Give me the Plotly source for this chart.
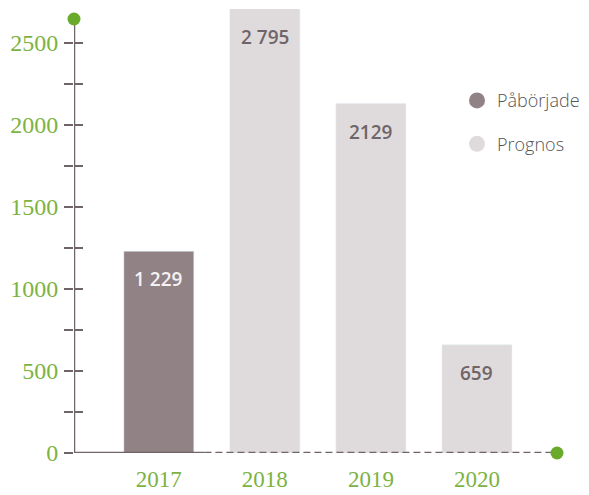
import plotly.graph_objects as go

years = ["2017", "2018", "2019", "2020"]
started_vals = [1229, None, None, None]
forecast_vals = [None, 2795, 2129, 659]
label_texts = ["1 229", "2 795", "2129", "659"]
label_values = [1229, 2795, 2129, 659]
series_names = ["Påbörjade", "Prognos"]
ytick_vals = [0, 500, 1000, 1500, 2000, 2500]

C_START = "#918385"
C_FORE = "#dfdbdc"
C_AXIS = "#6f6569"
C_GREEN = "#6aaa2a"
C_TICKTXT = "#7cb342"

Y_MAX = 2705
Y_DOT = 2644
X_MIN, X_MAX = -0.80, 3.755
SOLID_END = 0.43

fig = go.Figure()
fig.add_trace(go.Bar(x=list(range(4)), y=started_vals, marker_color=C_START,
                     width=0.66, showlegend=False, hoverinfo="skip"))
fig.add_trace(go.Bar(x=list(range(4)), y=forecast_vals, marker_color=C_FORE,
                     width=0.66, showlegend=False, hoverinfo="skip"))

# legend entries as circles
for name, col in zip(series_names, [C_START, C_FORE]):
    fig.add_trace(go.Scatter(x=[None], y=[None], mode="markers", name=name,
                             legendgroup=name,
                             marker=dict(symbol="circle", size=17, color=col)))

# axis lines
fig.add_trace(go.Scatter(x=[X_MIN, X_MIN], y=[0, Y_DOT], mode="lines",
                         line=dict(color=C_AXIS, width=2.5), showlegend=False,
                         hoverinfo="skip", cliponaxis=False))
fig.add_trace(go.Scatter(x=[X_MIN, SOLID_END], y=[0, 0], mode="lines",
                         line=dict(color=C_AXIS, width=2.5), showlegend=False,
                         hoverinfo="skip", cliponaxis=False))
fig.add_trace(go.Scatter(x=[SOLID_END, X_MAX], y=[0, 0], mode="lines",
                         line=dict(color=C_AXIS, width=2.5, dash="7px,4px"),
                         showlegend=False, hoverinfo="skip", cliponaxis=False))
# green end dots
fig.add_trace(go.Scatter(x=[X_MIN, X_MAX], y=[Y_DOT, 0], mode="markers",
                         marker=dict(color=C_GREEN, size=13), showlegend=False,
                         hoverinfo="skip", cliponaxis=False))

# bar labels
for i, (t, v) in enumerate(zip(label_texts, label_values)):
    top = min(v, Y_MAX)
    fig.add_annotation(x=i, y=top, yref="y", text=t, showarrow=False,
                       yanchor="middle", yshift=-28,
                       font=dict(family="Open Sans", size=19, weight=600,
                                 color="#f4f2f2" if i == 0 else "#6f6569"))

# page body has an 8px default margin, so the figure is offset to compensate
fig.update_layout(
    width=581, height=487,
    margin=dict(l=66, r=32, t=1, b=42, autoexpand=False),
    paper_bgcolor="white", plot_bgcolor="white",
    barmode="overlay",
    xaxis=dict(range=[X_MIN, X_MAX], tickmode="array", tickvals=list(range(4)),
               ticktext=years, showgrid=False, zeroline=False, showline=False,
               ticks="", ticklabelstandoff=10, automargin=False,
               tickfont=dict(family="Liberation Serif", size=23, color=C_TICKTXT)),
    yaxis=dict(range=[0, Y_MAX], tickmode="array", tickvals=ytick_vals,
               showgrid=False, zeroline=False, showline=False, automargin=False,
               ticks="outside", ticklen=9, tickwidth=2, tickcolor=C_AXIS,
               ticklabelstandoff=1,
               minor=dict(ticks="outside", ticklen=9, tickwidth=2, dtick=250,
                          tick0=0, tickcolor=C_AXIS, showgrid=False),
               tickfont=dict(family="Liberation Serif", size=24, color=C_TICKTXT)),
    yaxis2=dict(range=[0, Y_MAX], overlaying="y", side="left", anchor="x",
                tickmode="array", tickvals=ytick_vals, showticklabels=False,
                showgrid=False, zeroline=False, showline=False, automargin=False,
                ticks="inside", ticklen=9, tickwidth=2, tickcolor=C_AXIS,
                minor=dict(ticks="inside", ticklen=9, tickwidth=2, dtick=250,
                           tick0=0, tickcolor=C_AXIS, showgrid=False)),
    legend=dict(x=0.793, xanchor="left", y=0.835, yanchor="top",
                font=dict(family="Open Sans", size=18, weight=300, color="#555555"),
                tracegroupgap=17, bgcolor="rgba(0,0,0,0)"),
    showlegend=True,
)
# dummy trace so yaxis2 is drawn
fig.add_trace(go.Scatter(x=[None], y=[None], yaxis="y2", showlegend=False,
                         hoverinfo="skip"))

fig.write_html("out.html")
